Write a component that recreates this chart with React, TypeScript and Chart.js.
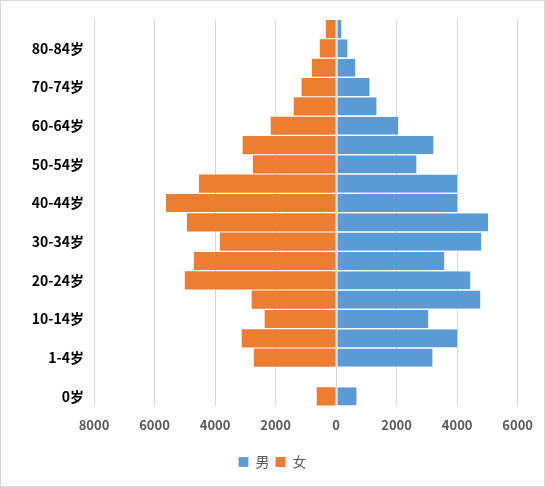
import React, { useEffect, useRef } from "react";
import Chart from "chart.js/auto";

// age groups from youngest (bottom) to oldest (top); index 1 is an empty row in the source
const ageGroups = [
  "0岁", "", "1-4岁", "5-9岁", "10-14岁", "15-19岁", "20-24岁", "25-29岁",
  "30-34岁", "35-39岁", "40-44岁", "45-49岁", "50-54岁", "55-59岁", "60-64岁",
  "65-69岁", "70-74岁", "75-79岁", "80-84岁", "85岁以上",
];
const male = [
  680, 0, 3190, 4010, 3050, 4770, 4440, 3580, 4800, 5030, 4010, 4010, 2660,
  3220, 2060, 1340, 1110, 640, 380, 180,
];
const female = [
  640, 0, 2720, 3120, 2360, 2790, 5000, 4700, 3840, 4930, 5620, 4530, 2750,
  3090, 2160, 1400, 1140, 800, 540, 340,
];
const xMin = -8000;
const xMax = 6000;
const xStep = 2000;

const App: React.FC = () => {
  const chartRef = useRef<HTMLCanvasElement | null>(null);

  useEffect(() => {
    if (!chartRef.current) return;
    const ctx = chartRef.current.getContext("2d");
    if (!ctx) return;

    Chart.defaults.font.family = "'Noto Sans CJK SC', 'Noto Sans', sans-serif";

    const chart = new Chart(ctx, {
      type: "bar",
      data: {
        labels: ageGroups,
        datasets: [
          {
            label: "男",
            data: male,
            backgroundColor: "#5B9BD5",
            borderColor: "#ffffff",
            borderWidth: { left: 1, right: 0, top: 0, bottom: 0 },
            borderSkipped: false,
          },
          {
            label: "女",
            data: female.map((v) => -v),
            backgroundColor: "#ED7D31",
            borderWidth: 0,
          },
        ],
      },
      options: {
        indexAxis: "y",
        responsive: false,
        animation: false,
        datasets: {
          bar: { barPercentage: 1, categoryPercentage: 0.94 },
        },
        layout: { padding: { top: 15, right: 26, left: 26, bottom: 7 } },
        scales: {
          x: {
            stacked: true,
            min: xMin,
            max: xMax,
            border: { display: false },
            grid: { color: "#D9D9D9", drawTicks: false },
            ticks: {
              stepSize: xStep,
              padding: 11,
              color: "#595959",
              font: { size: 13, weight: "bold" },
              callback: (v) => String(Math.abs(Number(v))),
            },
            afterFit: (scale) => {
              scale.height = 43;
            },
          },
          y: {
            stacked: true,
            reverse: true,
            border: { display: false },
            grid: { display: false, drawTicks: false },
            ticks: {
              autoSkip: false,
              padding: 10,
              color: "#000000",
              font: { size: 14, weight: "bold" },
              callback: (_v, i) => (i % 2 === 0 ? ageGroups[i] : ""),
            },
            afterFit: (scale) => {
              scale.width = 67;
            },
          },
        },
        plugins: {
          tooltip: { enabled: false },
          legend: {
            position: "bottom",
            labels: {
              boxWidth: 10,
              boxHeight: 10,
              padding: 6,
              color: "#595959",
              font: { size: 14 },
            },
          },
        },
      },
    });

    return () => chart.destroy();
  }, []);

  return (
    <div
      style={{
        position: "fixed",
        left: 0,
        top: 0,
        width: 545,
        height: 487,
        boxSizing: "border-box",
        border: "1px solid #D9D9D9",
        background: "#fff",
      }}
    >
      <canvas ref={chartRef} width={543} height={485} style={{ display: "block" }}></canvas>
    </div>
  );
};

export default App;
